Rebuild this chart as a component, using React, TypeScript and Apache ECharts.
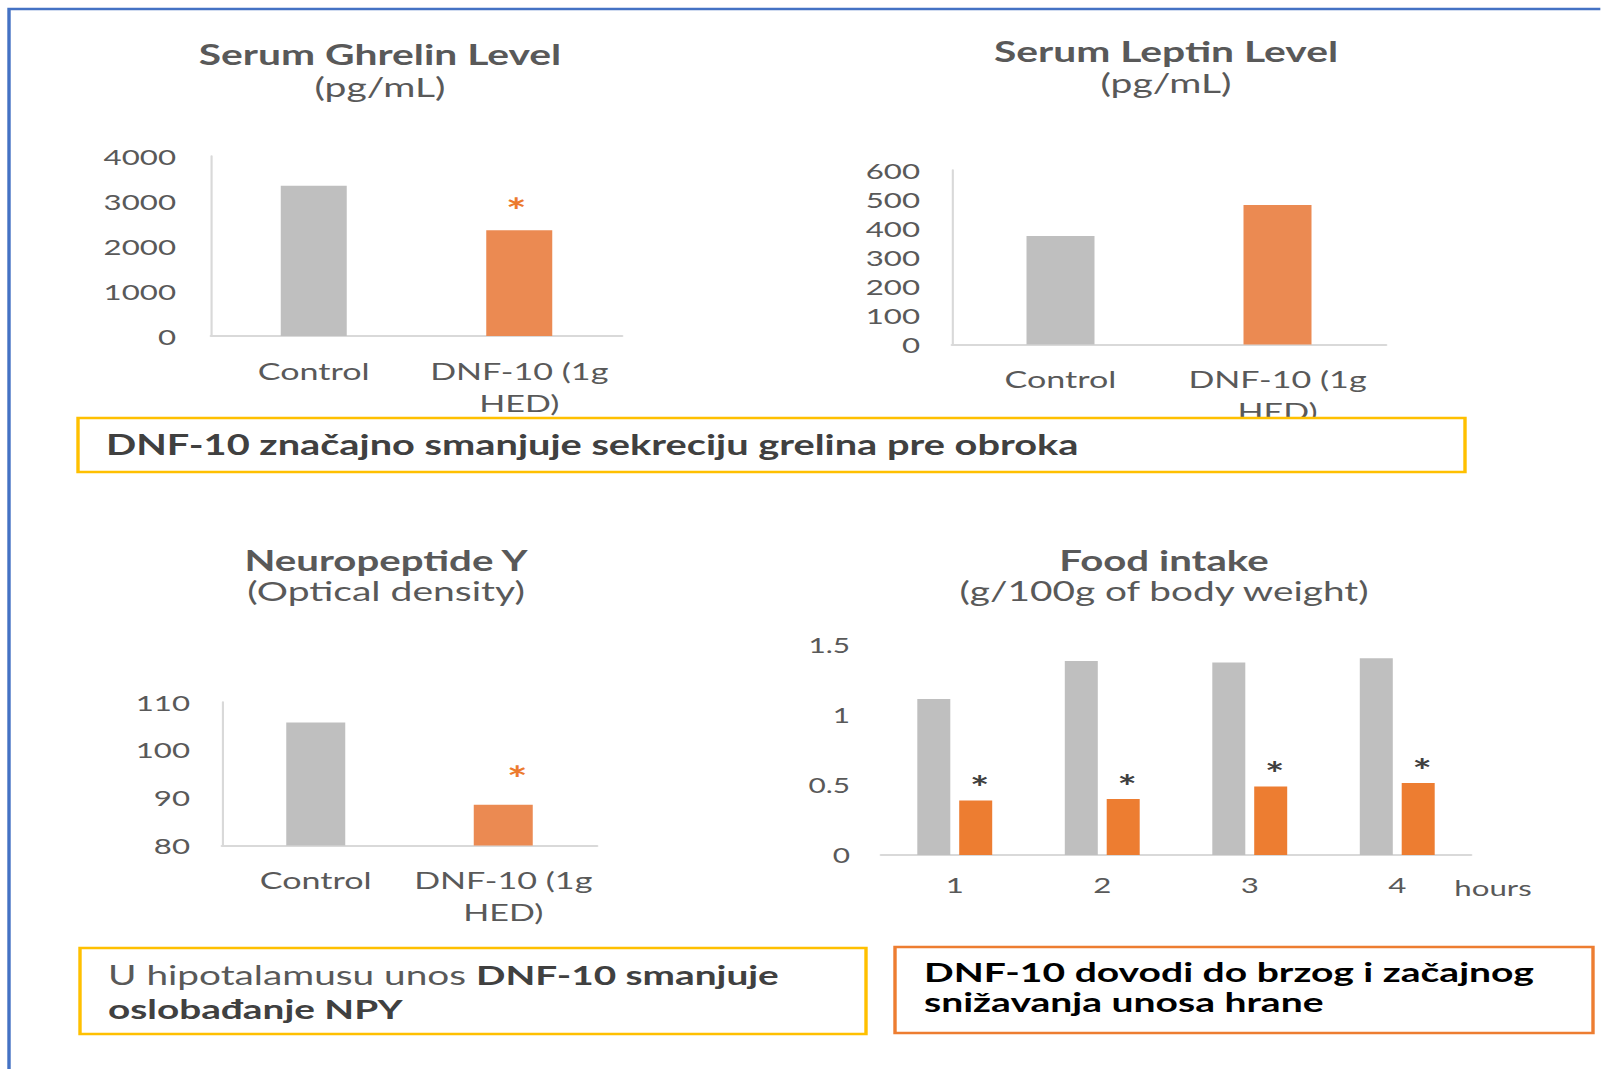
import React, { useEffect, useRef } from "react";
import * as echarts from "echarts";

// ---------- data ----------
const groupCategories = ["Control", "DNF-10 (1g\nHED)"];
const ghrelinValues = [3340, 2350];
const ghrelinSignificant = [false, true];
const leptinValues = [373, 480];
const leptinSignificant = [false, false];
const npyValues = [105.7, 88.5];
const npySignificant = [false, true];
const hourCategories = ["1", "2", "3", "4"];
const foodControl = [1.115, 1.385, 1.375, 1.405];
const foodDnf = [0.39, 0.4, 0.49, 0.515];
const foodSignificant = [true, true, true, true];

const ghrelinTicks = { min: 0, max: 4000, interval: 1000 };
const leptinTicks = { min: 0, max: 600, interval: 100 };
const npyTicks = { min: 80, max: 110, interval: 10 };
const foodTicks = { min: 0, max: 1.5, interval: 0.5 };

// ---------- layout / style ----------
const S = 1.42; // horizontal stretch of the original picture
const FULL_W = 1601;
const FULL_H = 1069;
const LW = FULL_W / S;
const X = (v: number) => v / S;
const FONT = "Lato";
const GRAY = "#BFBFBF";
const ORANGE_SOFT = "#EB8A52";
const ORANGE = "#ED7D31";
const TEXT = "#595959";
const AXIS = "#D9D9D9";

function valueAxis(grid: number, t: { min: number; max: number; interval: number }, margin: number, showLine: boolean, fontSize: number) {
  return {
    type: "value",
    gridIndex: grid,
    min: t.min,
    max: t.max,
    interval: t.interval,
    axisLine: { show: showLine, lineStyle: { color: AXIS, width: 1.5 } },
    axisTick: { show: false },
    splitLine: { show: false },
    axisLabel: { color: TEXT, fontSize, fontFamily: FONT, margin, formatter: (v: number) => String(v) },
  };
}

function categoryAxis(grid: number, data: string[], margin: number, fontSize: number) {
  return {
    type: "category",
    gridIndex: grid,
    data,
    axisLine: { show: true, lineStyle: { color: AXIS, width: 2 } },
    axisTick: { show: false },
    axisLabel: { color: TEXT, fontSize, fontFamily: FONT, margin, lineHeight: 32, interval: 0 },
  };
}

function starLabel(color: string, fontSize: number, distance: number, dx: number) {
  return {
    position: "top",
    formatter: "*",
    color,
    fontSize,
    fontWeight: "bold",
    lineHeight: fontSize,
    fontFamily: FONT,
    distance,
    offset: [dx, 0],
  };
}

function pairSeries(grid: number, values: number[], sig: boolean[], barW: number, star: any) {
  return {
    type: "bar",
    xAxisIndex: grid,
    yAxisIndex: grid,
    barWidth: barW,
    label: star,
    data: values.map((v, i) => ({
      value: v,
      itemStyle: { color: i === 0 ? GRAY : ORANGE_SOFT },
      label: { show: sig[i] },
    })),
  };
}

function titleText(cx: number, y: number, text: string, bold: boolean, size: number) {
  return {
    type: "text",
    x: X(cx),
    y,
    z: 20,
    style: {
      text,
      fill: TEXT,
      fontSize: size,
      fontWeight: bold ? "bold" : "normal",
      fontFamily: FONT,
      align: "center",
      verticalAlign: "middle",
      textAlign: "center",
      textVerticalAlign: "middle",
    },
  };
}

function box(x0: number, y0: number, x1: number, y1: number, color: string) {
  return {
    type: "rect",
    z: 10,
    shape: { x: X(x0), y: y0, width: X(x1 - x0), height: y1 - y0 },
    style: { fill: "#FFFFFF", stroke: color, lineWidth: 2.4 },
  };
}

export default function App() {
  const ref = useRef<HTMLDivElement>(null);
  useEffect(() => {
    if (!ref.current) return;
    const chart = echarts.init(ref.current, undefined, { renderer: "svg" });
    const option: any = {
      animation: false,
      backgroundColor: "#FFFFFF",
      grid: [
        { left: X(211), top: 156, width: X(622 - 211), height: 180, outerBoundsMode: "none" },
        { left: X(952), top: 170, width: X(1386 - 952), height: 174.5, outerBoundsMode: "none" },
        { left: X(222), top: 702, width: X(597 - 222), height: 143.5, outerBoundsMode: "none" },
        { left: X(881), top: 645, width: X(1471 - 881), height: 210, outerBoundsMode: "none" },
      ],
      xAxis: [
        categoryAxis(0, groupCategories, 19, 24),
        categoryAxis(1, groupCategories, 18.5, 24),
        categoryAxis(2, groupCategories, 18.5, 24),
        categoryAxis(3, hourCategories, 13, 22),
      ],
      yAxis: [
        valueAxis(0, ghrelinTicks, X(35), true, 22),
        valueAxis(1, leptinTicks, X(32), true, 22),
        valueAxis(2, npyTicks, X(32), true, 22),
        valueAxis(3, foodTicks, X(31), false, 21),
      ],
      series: [
        pairSeries(0, ghrelinValues, ghrelinSignificant, X(66), starLabel("#EC7A2E", 34, 3, X(-3))),
        pairSeries(1, leptinValues, leptinSignificant, X(68), starLabel("#EC7A2E", 34, 3, 0)),
        pairSeries(2, npyValues, npySignificant, X(59), starLabel("#EC7A2E", 34, 10, X(14))),
        {
          type: "bar",
          xAxisIndex: 3,
          yAxisIndex: 3,
          barWidth: X(33),
          barGap: "27%",
          itemStyle: { color: GRAY },
          data: foodControl,
        },
        {
          type: "bar",
          xAxisIndex: 3,
          yAxisIndex: 3,
          barWidth: X(33),
          barGap: "27%",
          itemStyle: { color: ORANGE },
          label: { show: true, ...starLabel("#404040", 32, -3, X(4)), formatter: (p: any) => (foodSignificant[p.dataIndex] ? "*" : "") },
          data: foodDnf,
        },
      ],
      graphic: [
        {
          type: "rect",
          z: 5,
          shape: { x: X(9), y: 9, width: X(3000), height: 3000 },
          style: { fill: "none", stroke: "#4472C4", lineWidth: 2.4 },
        },
        titleText(380, 54, "Serum Ghrelin Level", true, 28.7),
        titleText(380, 86, "(pg/mL)", false, 27.5),
        titleText(1166, 51, "Serum Leptin Level", true, 28.7),
        titleText(1166, 82, "(pg/mL)", false, 27.5),
        titleText(386, 560, "Neuropeptide Y", true, 28.3),
        titleText(386, 590, "(Optical density)", false, 27.5),
        titleText(1164, 560, "Food intake", true, 28.3),
        titleText(1164, 590, "(g/100g of body weight)", false, 27.3),
        {
          type: "text",
          x: X(1493),
          y: 887,
          z: 20,
          style: {
            text: "hours",
            fill: TEXT,
            fontSize: 22,
            fontFamily: FONT,
            align: "center",
            verticalAlign: "middle",
            textAlign: "center",
            textVerticalAlign: "middle",
          },
        },
        box(78, 418, 1465, 472, "#FFC000"),
        {
          type: "text",
          x: X(106),
          y: 444,
          z: 20,
          style: {
            text: "DNF-10 značajno smanjuje sekreciju grelina pre obroka",
            fill: "#404040",
            fontSize: 28,
            fontWeight: "bold",
            fontFamily: FONT,
            align: "left",
            verticalAlign: "middle",
            textAlign: "left",
            textVerticalAlign: "middle",
          },
        },
        box(80, 948, 866, 1034, "#FFC000"),
        {
          type: "text",
          x: X(108),
          y: 991,
          z: 20,
          style: {
            text: "{r|U hipotalamusu unos }{b|DNF-10 smanjuje}\n{b|oslobađanje NPY}",
            fill: "#404040",
            fontSize: 27.3,
            fontFamily: FONT,
            align: "left",
            verticalAlign: "middle",
            textAlign: "left",
            textVerticalAlign: "middle",
            rich: {
              r: { fontSize: 27.3, fontFamily: FONT, fill: "#595959", color: "#595959", lineHeight: 34 },
              b: { fontSize: 27.3, fontFamily: FONT, fontWeight: "bold", fill: "#404040", color: "#404040", lineHeight: 34 },
            },
          },
        },
        box(895, 947, 1593, 1033, "#ED7D31"),
        {
          type: "text",
          x: X(924),
          y: 986,
          z: 20,
          style: {
            text: "DNF-10 dovodi do brzog i začajnog\nsnižavanja unosa hrane",
            fill: "#000000",
            fontSize: 27.5,
            fontWeight: "bold",
            fontFamily: FONT,
            lineHeight: 30,
            align: "left",
            verticalAlign: "middle",
            textAlign: "left",
            textVerticalAlign: "middle",
          },
        },
      ],
    };
    chart.setOption(option);
    return () => chart.dispose();
  }, []);
  return (
    <div
      ref={ref}
      style={{
        position: "absolute",
        left: 0,
        top: 0,
        width: LW,
        height: FULL_H,
        transform: `scaleX(${S})`,
        transformOrigin: "0 0",
        background: "#FFFFFF",
      }}
    />
  );
}
